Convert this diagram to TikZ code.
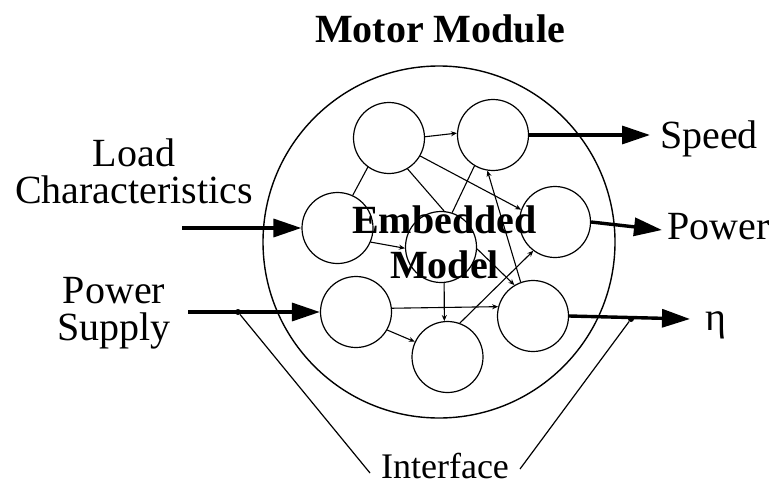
\documentclass[tikz,border=0pt]{standalone}
\usepackage{fontspec}
\setmainfont{Liberation Serif}
\usetikzlibrary{arrows.meta}
\begin{document}
\begin{tikzpicture}[x=1pt,y=-1pt,
  unit/.style={circle,draw,line width=1.2pt,minimum size=71pt,inner sep=0pt},
  thin/.style={line width=1.1pt,-{Stealth[length=6pt,width=5pt]}},
  link/.style={line width=1.1pt},
  big/.style={line width=3.4pt,-{Triangle[length=28pt,width=18pt]}},
  lbl/.style={font=\fontsize{40}{37}\selectfont,inner sep=0pt,align=center,anchor=base},
  wire/.style={line width=1.2pt},
  dotmark/.style={circle,fill,inner sep=0pt,minimum size=6pt}
]
\useasboundingbox (0,0) rectangle (773,487);

% module boundary
\node[circle,draw,line width=1.4pt,minimum size=352pt,inner sep=0pt] (mod) at (439,242) {};

% units
\node[unit] (A) at (389,138) {};
\node[unit] (B) at (493,135) {};
\node[unit] (C) at (337.5,228) {};
\node[unit] (D) at (441,247) {};
\node[unit] (E) at (555,222) {};
\node[unit] (F) at (356,312) {};
\node[unit] (G) at (447.5,357) {};
\node[unit] (H) at (533,316) {};

% internal connections
\draw[thin] (A.2) -- (B.177);
\draw[link] (A.-126) -- (C.65);
\draw[link] (A.-59) -- (D.85);
\draw[link] (B.-121) -- (D.72);
\draw[thin] (A.-30) -- (E.160);
\draw[thin] (H.110) -- (B.-99);
\draw[thin] (C.-23) -- (D.-178);
\draw[thin] (D.-3) -- (H.121);
\draw[thin] (D.-85) -- (G.95);
\draw[thin] (F.6) -- (H.165);
\draw[thin] (F.-30) -- (G.155);
\draw[thin] (G.70) -- (E.-127);

% text labels
\node[font=\fontsize{40}{37}\selectfont\bfseries,inner sep=0pt,anchor=base] (title) at (440,42) {Motor Module};
\node[lbl] (load) at (134,203) {Load\\Characteristics};
\node[lbl] (supply) at (114,340) {Power\\Supply};
\node[lbl,anchor=base west] (speed) at (660,148) {Speed};
\node[lbl,anchor=base west] (power) at (667,239) {Power};
\node[lbl,anchor=base west] (eta) at (705,330) {η};
\node[font=\fontsize{36}{36}\selectfont,inner sep=0pt,anchor=base] (iface) at (445,478) {Interface};
\node[font=\fontsize{40}{45}\selectfont\bfseries,inner sep=0pt,align=center,anchor=base] (emb) at (444.5,278) {Embedded\\Model};

% free ends
\coordinate (loadin) at (182,228);
\coordinate (supplyin) at (188,312);
\coordinate (speedout) at (650,135);
\coordinate (powerout) at (662,230);
\coordinate (etaout) at (690,319);
\coordinate (d1) at (238,312);
\coordinate (d2) at (631,319);
\coordinate (if1) at (370,473);
\coordinate (if2) at (520,469);

% external arrows
\draw[big] (loadin) -- (C.west);
\draw[big] (supplyin) -- (F.west);
\draw[big] (B.east) -- (speedout);
\draw[big] (E.east) -- (powerout);
\draw[big] (H.east) -- (etaout);

% interface markers
\node[dotmark] (m1) at (d1) {};
\node[dotmark] (m2) at (d2) {};
\draw[wire] (m1) -- (if1);
\draw[wire] (m2) -- (if2);
\end{tikzpicture}
\end{document}
